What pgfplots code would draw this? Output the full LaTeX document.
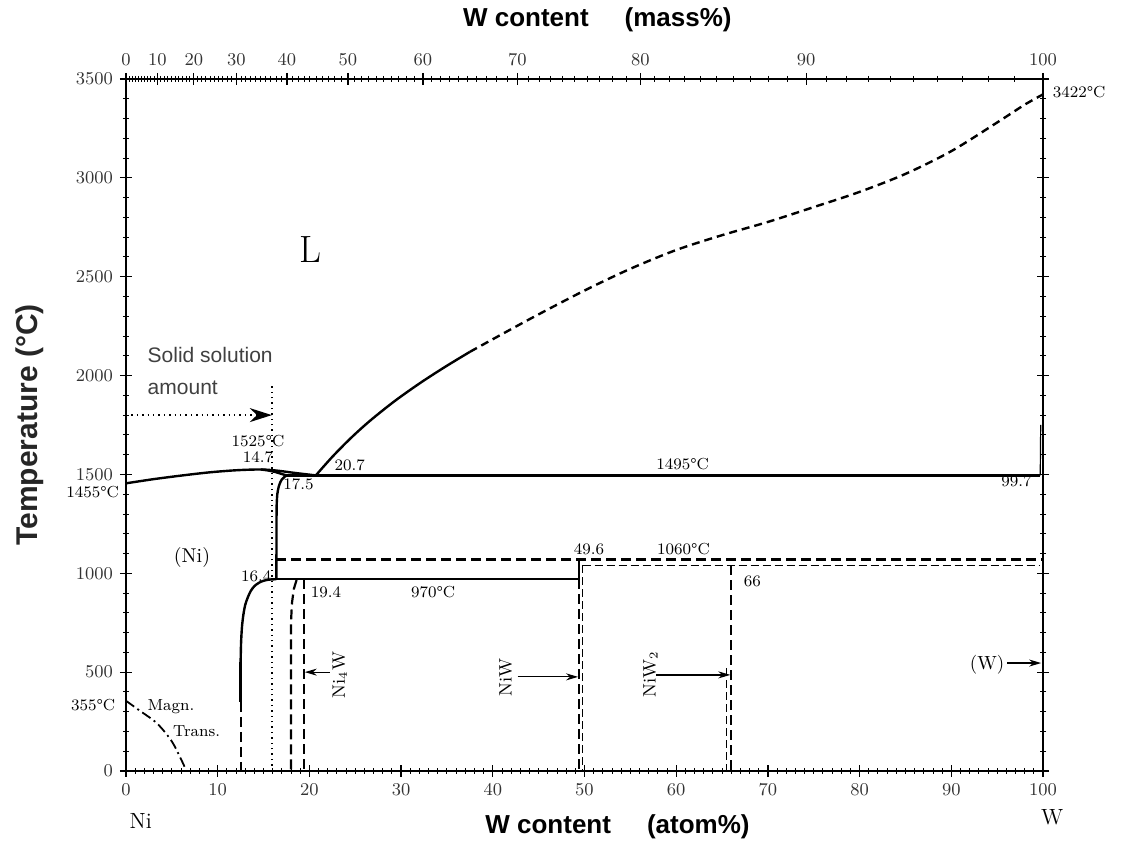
\documentclass[border=0pt]{standalone}
\usepackage{pgfplots}
\pgfplotsset{compat=1.18}
\usepackage{fontspec}
\newfontfamily\lsans{Liberation Sans}
\usetikzlibrary{arrows.meta,calc}
\newcommand\an{\fontsize{8}{8}\selectfont}
\begin{document}
\def\mtl{0}%
\foreach \w in {1,...,99}{\pgfmathsetmacro\a{100*\w/(\w+3.13239*(100-\w))}\xdef\mtl{\mtl,\a}}%
\begin{tikzpicture}[
  sol/.style={line width=1.2pt},
  thd/.style={line width=1.1pt, dash pattern=on 5pt off 2.5pt},
  tnd/.style={line width=0.6pt, dash pattern=on 4pt off 2pt},
  dd/.style={line width=0.9pt, dash pattern=on 5pt off 2pt on 1pt off 2pt},
]
\begin{axis}[
  scale only axis, width=458.5pt, height=346pt,
  xmin=0, xmax=100, ymin=0, ymax=3500,
  xtick={0,10,...,100}, minor x tick num=9,
  ytick={0,500,...,3500}, minor y tick num=4,
  xtick pos=left, ytick pos=both,
  tick align=center, major tick length=6pt, minor tick length=3pt,
  every tick/.style={black, line width=0.6pt},
  every minor tick/.style={black, line width=0.45pt},
  axis line style={line width=0.8pt},
  tick label style={font=\fontsize{9}{9}\selectfont, text=black!80},
  /pgf/number format/1000 sep={},
  scaled y ticks=false,
  clip=false,
]
% liquidus / solidus near Ni
\addplot[sol, smooth] coordinates {(0,1455)(3,1476)(6,1494)(9,1510)(12,1521)(14.7,1525)(16.5,1519)(18.5,1507)(20.7,1495)};
\addplot[sol, smooth] coordinates {(14.7,1525)(15.5,1520)(16.3,1512)(17.0,1502)(17.5,1495)};
% (Ni) solvus
\addplot[sol, smooth] coordinates {(17.5,1495)(17.0,1475)(16.7,1445)(16.5,1400)(16.42,1330)};
\addplot[sol] coordinates {(16.42,1330)(16.4,970)};
\addplot[sol, smooth] coordinates {(16.4,970)(15.6,968)(15.0,962)(14.5,952)(14.0,935)(13.6,910)(13.3,880)(13.0,840)(12.8,790)(12.65,730)(12.55,650)(12.5,550)};
\addplot[sol] coordinates {(12.5,550)(12.5,350)};
\addplot[thd] coordinates {(12.5,350)(12.5,0)};
% peritectic 1495
\addplot[sol] coordinates {(17.5,1495)(99.7,1495)};
% liquidus to W
\addplot[sol, smooth] coordinates {(20.7,1495)(22.5,1589)(24.5,1683)(26.6,1771)(29.3,1871)(32.1,1963)(34.8,2044)(37.5,2120)};
\addplot[line width=1.2pt, dash pattern=on 4pt off 2.5pt, smooth] coordinates {(37.5,2120)(44,2285)(50,2430)(55,2540)(60,2635)(65,2710)(70,2777)(75,2852)(80,2929)(85,3020)(90,3135)(95,3280)(98,3370)(100,3422)};
% W side
\addplot[line width=1.3pt] coordinates {(100,0)(100,3422)};
\addplot[line width=0.6pt] coordinates {(99.7,1495)(99.75,1750)};
% 970 line
\addplot[sol] coordinates {(16.4,970)(49.4,970)};
% 1060 lines
\addplot[thd] coordinates {(16.4,1070)(100,1070)};
\addplot[tnd] coordinates {(49.8,1040)(99.7,1040)};
% Ni4W
\addplot[thd] coordinates {(19.4,970)(19.4,0)};
\addplot[thd] coordinates {(18.6,966)(18.3,920)(18.1,850)(18.0,760)(18.0,0)};
% NiW
\addplot[sol] coordinates {(49.4,1070)(49.4,970)};
\addplot[thd] coordinates {(49.4,970)(49.4,0)};
\addplot[tnd] coordinates {(49.8,1040)(49.8,0)};
% NiW2
\addplot[thd] coordinates {(66.0,1040)(66.0,0)};
\addplot[tnd] coordinates {(65.5,520)(65.5,0)};
% magnetic transition
\addplot[dd, smooth] coordinates {(0,355)(1.5,305)(3.4,240)(5.1,142)(6.6,0)};
% solid solution marker
\addplot[line width=0.7pt, dotted] coordinates {(15.9,0)(15.9,1950)};
\addplot[line width=0.7pt, dotted, -{Stealth[length=11pt,width=7pt]}] coordinates {(0,1800)(15.9,1800)};
% arrows to phases
\addplot[line width=0.6pt, -{Stealth[length=6pt,width=3.5pt]}] coordinates {(22.2,500)(19.5,500)};
\addplot[line width=0.6pt, -{Stealth[length=6pt,width=3.5pt]}] coordinates {(42.7,476)(49.3,476)};
\addplot[line width=0.6pt, -{Stealth[length=6pt,width=3.5pt]}] coordinates {(57.8,486)(65.9,486)};
\addplot[line width=0.6pt, -{Stealth[length=6pt,width=3.5pt]}] coordinates {(96.1,546)(99.8,546)};
% text
\node[font=\fontsize{19}{19}\selectfont] at (axis cs:20.1,2640) {L};
\node[anchor=west, font=\lsans\fontsize{10.5}{10.5}\selectfont, text=black!75] at (axis cs:1.6,2104) {Solid solution};
\node[anchor=west, font=\lsans\fontsize{10.5}{10.5}\selectfont, text=black!75] at (axis cs:1.6,1937) {amount};
\node[font=\an] at (axis cs:14.4,1669) {1525°C};
\node[font=\an] at (axis cs:14.4,1588) {14.7};
\node[font=\an] at (axis cs:18.8,1450) {17.5};
\node[font=\an] at (axis cs:24.4,1548) {20.7};
\node[font=\an] at (axis cs:60.7,1553) {1495°C};
\node[font=\an] at (axis cs:97.1,1467) {99.7};
\node[font=\an, anchor=west] at (axis cs:100.3,3434) {3422°C};
\node[font=\an, anchor=east, inner sep=1pt] at (axis cs:-0.5,1412) {1455°C};
\node[font=\an, anchor=east] at (axis cs:-0.4,334) {355°C};
\node[font=\fontsize{10}{10}\selectfont] at (axis cs:7.2,1082) {(Ni)};
\node[font=\an] at (axis cs:14.2,986) {16.4};
\node[font=\an] at (axis cs:21.8,905) {19.4};
\node[font=\an] at (axis cs:33.5,905) {970°C};
\node[font=\an] at (axis cs:50.5,1123) {49.6};
\node[font=\an] at (axis cs:60.8,1123) {1060°C};
\node[font=\an] at (axis cs:68.3,961) {66};
\node[font=\an] at (axis cs:4.9,323) {Magn.};
\node[font=\an] at (axis cs:7.7,203) {Trans.};
\node[font=\fontsize{9}{9}\selectfont, rotate=90] at (axis cs:23.3,486) {Ni$_4$W};
\node[font=\fontsize{9}{9}\selectfont, rotate=90] at (axis cs:41.4,475) {NiW};
\node[font=\fontsize{9}{9}\selectfont, rotate=90] at (axis cs:57.2,490) {NiW$_2$};
\node[font=\fontsize{9.5}{9.5}\selectfont] at (axis cs:93.9,536) {(W)};
\node[font=\fontsize{11}{11}\selectfont] at (axis cs:1.6,-253) {Ni};
\node[font=\fontsize{11}{11}\selectfont] at (axis cs:101,-233) {W};
\node[font=\lsans\bfseries\fontsize{13}{13}\selectfont] at (axis cs:53.6,-283) {W content\hspace{18pt}(atom\%)};
\node[font=\lsans\bfseries\fontsize{13}{13}\selectfont] at (axis cs:51.4,3799) {W content\hspace{18pt}(mass\%)};
\node[font=\lsans\bfseries\fontsize{15}{15}\selectfont, text=black!85, rotate=90] at (axis cs:-10.5,1750) {Temperature (°C)};
\coordinate (BL) at (rel axis cs:0,0);
\coordinate (TR) at (rel axis cs:1,1);
\end{axis}
\begin{axis}[
  scale only axis, width=458.5pt, height=346pt,
  xmin=0, xmax=100, ymin=0, ymax=3500,
  axis x line*=top, axis y line=none,
  xtick={0,3.426,7.391,12.035,17.548,24.199,32.380,42.691,56.082,74.180,100},
  xticklabels={0,10,20,30,40,50,60,70,80,90,100},
  minor xtick/.expanded={\mtl},
  tick align=center, major tick length=6pt, minor tick length=3pt,
  every tick/.style={black, line width=0.6pt},
  every minor tick/.style={black, line width=0.4pt},
  axis line style={line width=0.8pt},
  tick label style={font=\fontsize{9}{9}\selectfont, text=black!80},
]
\addplot[draw=none] coordinates {(0,0)};
\end{axis}
\pgfresetboundingbox
\path[use as bounding box] ($(BL)+(-63pt,-37pt)$) rectangle ($(TR)+(39pt,39.5pt)$);
\end{tikzpicture}
\end{document}
